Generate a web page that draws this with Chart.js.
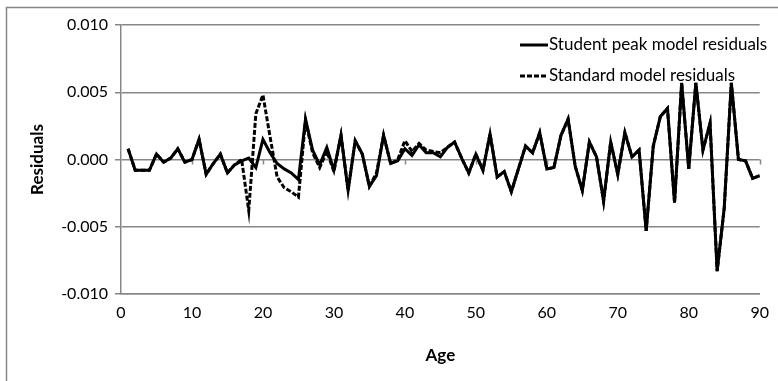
<!DOCTYPE html>
<html>
<head>
<meta charset="utf-8">
<script src="https://cdn.jsdelivr.net/npm/chart.js@4/dist/chart.umd.min.js"></script>
<style>
  body { margin: 0; background: #fff; }
  canvas { display: block; }
</style>
</head>
<body>
<canvas id="chart" width="778" height="381"></canvas>
<script>
// ages on the x axis
const ages = [
   1,  2,  3,  4,  5,  6,  7,  8,  9, 10,
  11, 12, 13, 14, 15, 16, 17, 18, 19, 20,
  21, 22, 23, 24, 25, 26, 27, 28, 29, 30,
  31, 32, 33, 34, 35, 36, 37, 38, 39, 40,
  41, 42, 43, 44, 45, 46, 47, 48, 49, 50,
  51, 52, 53, 54, 55, 56, 57, 58, 59, 60,
  61, 62, 63, 64, 65, 66, 67, 68, 69, 70,
  71, 72, 73, 74, 75, 76, 77, 78, 79, 80,
  81, 82, 83, 84, 85, 86, 87, 88, 89, 90
];

// Student peak model residuals
const studentResiduals = [
   0.0008, -0.0008, -0.0008, -0.0008,  0.0004, -0.0002,  0.0001,  0.0008, -0.0002,  0.0000,
   0.0015, -0.0011, -0.0003,  0.0004, -0.0010, -0.0004, -0.0001,  0.0001, -0.0006,  0.0015,
   0.0005, -0.0003, -0.0007, -0.0010, -0.0015,  0.0030,  0.0007, -0.0004,  0.0009, -0.0008,
   0.0018, -0.0023,  0.0014,  0.0004, -0.0020, -0.0012,  0.0018, -0.0003, -0.0001,  0.0008,
   0.0003,  0.0011,  0.0005,  0.0005,  0.0002,  0.0009,  0.0013,  0.0001, -0.0010,  0.0004,
  -0.0008,  0.0019, -0.0013, -0.0009, -0.0024, -0.0007,  0.0010,  0.0005,  0.0020, -0.0007,
  -0.0006,  0.0018,  0.0030, -0.0005, -0.0023,  0.0013,  0.0002, -0.0031,  0.0013, -0.0011,
   0.0020,  0.0002,  0.0007, -0.0053,  0.0010,  0.0032,  0.0038, -0.0032,  0.0057, -0.0007,
   0.0057,  0.0007,  0.0027, -0.0083, -0.0036,  0.0057,  0.0000, -0.0001, -0.0014, -0.0012
];

// Standard model residuals
const standardResiduals = [
   0.0008, -0.0008, -0.0008, -0.0008,  0.0004, -0.0002,  0.0001,  0.0008, -0.0002,  0.0000,
   0.0015, -0.0011, -0.0003,  0.0004, -0.0010, -0.0004,  0.0000, -0.0038,  0.0034,  0.0048,
   0.0017, -0.0013, -0.0021, -0.0024, -0.0028,  0.0029,  0.0005, -0.0006,  0.0006, -0.0009,
   0.0018, -0.0023,  0.0014,  0.0004, -0.0020, -0.0010,  0.0018, -0.0003,  0.0000,  0.0014,
   0.0006,  0.0012,  0.0007,  0.0006,  0.0005,  0.0009,  0.0013,  0.0001, -0.0010,  0.0004,
  -0.0008,  0.0019, -0.0013, -0.0009, -0.0024, -0.0007,  0.0010,  0.0005,  0.0020, -0.0007,
  -0.0006,  0.0018,  0.0030, -0.0005, -0.0023,  0.0013,  0.0002, -0.0031,  0.0013, -0.0011,
   0.0020,  0.0002,  0.0007, -0.0053,  0.0010,  0.0032,  0.0038, -0.0032,  0.0057, -0.0007,
   0.0057,  0.0007,  0.0027, -0.0083, -0.0036,  0.0057,  0.0000, -0.0001, -0.0014, -0.0012
];

const FONT = 'Lato, "Open Sans", sans-serif';
const GRID = '#878787';

// outer frame, small x ticks on the zero line, legend inside the plot
const frame = {
  id: 'frame',
  beforeDraw(chart) {
    const ctx = chart.ctx;
    ctx.save();
    ctx.fillStyle = '#fff';
    ctx.fillRect(0, 0, chart.width, chart.height);
    ctx.strokeStyle = GRID;
    ctx.lineWidth = 1.5;
    ctx.strokeRect(6.5, 7.5, 1000, 1000);
    ctx.restore();
  },
  beforeDatasetsDraw(chart) {
    const ctx = chart.ctx, xs = chart.scales.x, ys = chart.scales.y;
    const y0 = ys.getPixelForValue(0);
    ctx.save();
    ctx.strokeStyle = GRID;
    ctx.lineWidth = 1.5;
    ctx.beginPath();
    xs.ticks.forEach(t => {
      if (t.value === 0) return;
      const px = Math.round(xs.getPixelForValue(t.value)) + 0.5;
      ctx.moveTo(px, y0);
      ctx.lineTo(px, y0 + 5);
    });
    ctx.stroke();
    ctx.restore();
  },
  afterDraw(chart) {
    const ctx = chart.ctx;
    chart.data.datasets.forEach((ds, i) => {
      const y = 45 + i * 31;
      ctx.save();
      ctx.strokeStyle = ds.borderColor;
      ctx.lineWidth = ds.borderWidth;
      ctx.setLineDash(ds.borderDash || []);
      ctx.beginPath();
      ctx.moveTo(520, y);
      ctx.lineTo(548, y);
      ctx.stroke();
      ctx.setLineDash([]);
      ctx.fillStyle = '#000';
      ctx.font = '17px ' + FONT;
      ctx.textBaseline = 'middle';
      ctx.fillText(ds.label, 549, y);
      ctx.restore();
    });
  }
};

new Chart(document.getElementById('chart'), {
  type: 'line',
  data: {
    datasets: [{
      label: 'Student peak model residuals',
      data: ages.map((a, i) => ({ x: a, y: studentResiduals[i] })),
      borderColor: '#000',
      borderWidth: 3,
      pointRadius: 0,
      tension: 0
    }, {
      label: 'Standard model residuals',
      data: ages.map((a, i) => ({ x: a, y: standardResiduals[i] })),
      borderColor: '#000',
      borderWidth: 3,
      borderDash: [5, 2],
      pointRadius: 0,
      tension: 0
    }]
  },
  options: {
    responsive: false,
    animation: false,
    devicePixelRatio: 1,
    layout: { padding: { top: 25, right: 16, left: 0, bottom: 0 } },
    scales: {
      x: {
        type: 'linear',
        min: 0,
        max: 90,
        afterFit: s => { s.height = 87; },
        grid: { drawOnChartArea: false, drawTicks: false },
        border: { display: true, color: GRID, width: 1.5 },
        ticks: { stepSize: 10, padding: 9, color: '#000', font: { family: FONT, size: 16 } },
        title: {
          display: true, text: 'Age', color: '#000',
          font: { family: FONT, size: 17, weight: 'bold' },
          padding: { top: 0, bottom: 15 }
        }
      },
      y: {
        min: -0.01,
        max: 0.01,
        afterFit: s => { s.width = 121; },
        grid: { color: GRID, lineWidth: 1.5, tickLength: 6 },
        border: { display: true, color: GRID, width: 1.5 },
        ticks: {
          stepSize: 0.005, padding: 7, color: '#000',
          font: { family: FONT, size: 16 },
          callback: v => v.toFixed(3)
        },
        title: {
          display: true, text: 'Residuals', color: '#000',
          font: { family: FONT, size: 17, weight: 'bold' },
          padding: { top: 27, bottom: 0 }
        }
      }
    },
    plugins: {
      legend: { display: false },
      tooltip: { enabled: false }
    }
  },
  plugins: [frame]
});
</script>
</body>
</html>
